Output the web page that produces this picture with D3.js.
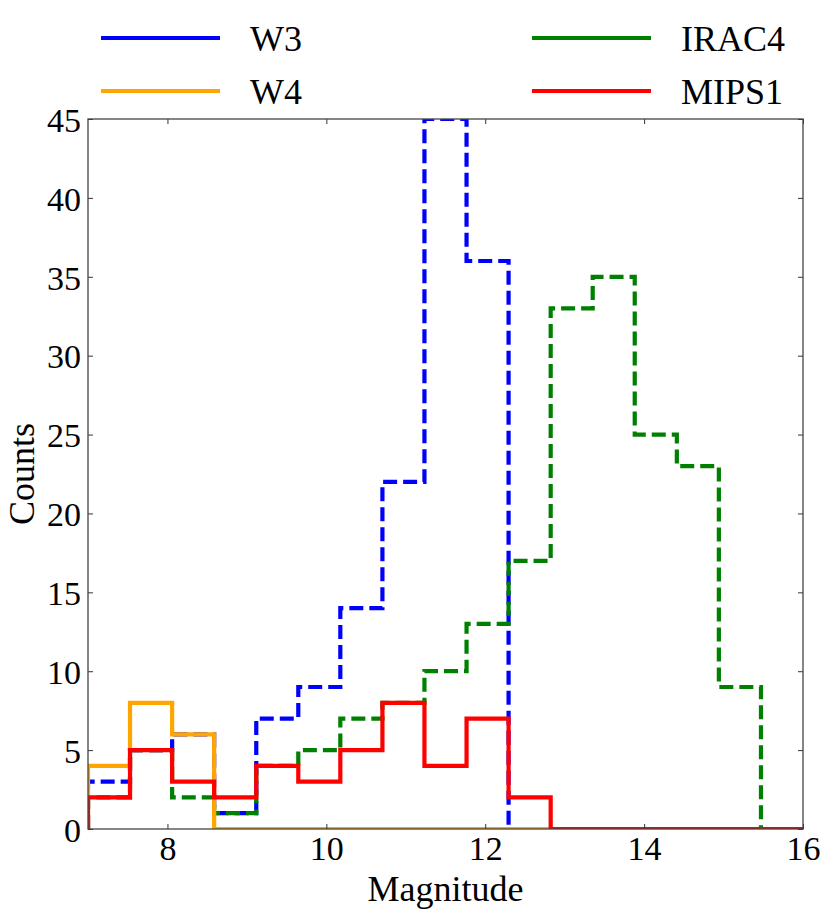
<!DOCTYPE html>
<html>
<head>
<meta charset="utf-8">
<script src="https://cdn.jsdelivr.net/npm/d3@7"></script>
<style>
  body { margin: 0; background: #fff; }
  text { font-family: "Liberation Serif", "DejaVu Serif", serif; fill: #000; }
</style>
</head>
<body>
<div id="hist-div"></div>
<script>
// Script globals
const CHART_WIDTH = 830
const CHART_HEIGHT = 916

// histogram bin edges (17 bins between 7 and 16)
const binEdges = [7, 7.529, 8.059, 8.588, 9.118, 9.647, 10.176, 10.706, 11.235,
  11.765, 12.294, 12.824, 13.353, 13.882, 14.412, 14.941, 15.471, 16]

// counts per bin
const w3Counts = [3, 5, 6, 1, 7, 9, 14, 22, 45, 36, 0, 0, 0, 0, 0, 0, 0]
const w4Counts = [4, 8, 6, 0, 0, 0, 0, 0, 0, 0, 0, 0, 0, 0, 0, 0, 0]
const irac4Counts = [2, 5, 2, 1, 4, 5, 7, 8, 10, 13, 17, 33, 35, 25, 23, 9, 0]
const mips1Counts = [2, 5, 3, 2, 4, 3, 5, 8, 4, 7, 2, 0, 0, 0, 0, 0, 0]

const xTicks = [8, 10, 12, 14, 16]
const yTicks = [0, 5, 10, 15, 20, 25, 30, 35, 40, 45]

// draw order: W3, IRAC4, W4, MIPS1 (legend keeps W3, W4, IRAC4, MIPS1)
const series = [
  {name: "W3", counts: w3Counts, color: "#0000ff", dash: "14,6"},
  {name: "IRAC4", counts: irac4Counts, color: "#008000", dash: "14,6"},
  {name: "W4", counts: w4Counts, color: "#ffa500", dash: null},
  {name: "MIPS1", counts: mips1Counts, color: "#ff0000", dash: null}
]
const legendOrder = ["W3", "W4", "IRAC4", "MIPS1"]

init();

function init () {
  const svg = d3.select("#hist-div").append("svg")
    .attr("width", CHART_WIDTH)
    .attr("height", CHART_HEIGHT)

  const marginLeft = 88
  const marginRight = 27
  const marginTop = 119
  const marginBottom = 87

  const x = d3.scaleLinear()
    .domain([7, 16])
    .range([marginLeft, CHART_WIDTH - marginRight])
  const y = d3.scaleLinear()
    .domain([0, 45])
    .range([CHART_HEIGHT - marginBottom, marginTop])

  svg.append("clipPath").attr("id", "plot-clip")
    .append("rect")
    .attr("x", x(7)).attr("y", y(45))
    .attr("width", x(16) - x(7)).attr("height", y(0) - y(45))

  // step outlines
  const line = d3.line().x(d => x(d[0])).y(d => y(d[1]))
  const plot = svg.append("g").attr("clip-path", "url(#plot-clip)")
  for (let s of series) {
    let pts = [[binEdges[0], 0]]
    s.counts.forEach((c, i) => {
      pts.push([binEdges[i], c])
      pts.push([binEdges[i + 1], c])
    })
    pts.push([binEdges[binEdges.length - 1], 0])
    plot.append("path")
      .attr("d", line(pts))
      .attr("fill", "none")
      .attr("stroke", s.color)
      .attr("stroke-width", 4.2)
      .attr("stroke-dasharray", s.dash)
      .attr("stroke-linejoin", "miter")
  }

  // axes with inward ticks on all sides
  const tickLen = 5
  svg.append("g")
    .attr("transform", `translate(0,${y(0)})`)
    .call(d3.axisBottom(x).tickValues(xTicks).tickSize(-tickLen).tickPadding(7).tickSizeOuter(0))
    .call(g => g.select(".domain").remove())
    .call(g => g.selectAll("text").attr("font-size", 34).attr("dy", "0.71em")
      .style("font-family", "Liberation Serif"))
  svg.append("g")
    .attr("transform", `translate(0,${y(45)})`)
    .call(d3.axisTop(x).tickValues(xTicks).tickSize(-tickLen).tickFormat("").tickSizeOuter(0))
    .call(g => g.select(".domain").remove())
  svg.append("g")
    .attr("transform", `translate(${x(7)},0)`)
    .call(d3.axisLeft(y).tickValues(yTicks).tickSize(-tickLen).tickPadding(7).tickSizeOuter(0))
    .call(g => g.select(".domain").remove())
    .call(g => g.selectAll("text").attr("font-size", 34).attr("dy", "0.36em")
      .style("font-family", "Liberation Serif"))
  svg.append("g")
    .attr("transform", `translate(${x(16)},0)`)
    .call(d3.axisRight(y).tickValues(yTicks).tickSize(-tickLen).tickFormat("").tickSizeOuter(0))
    .call(g => g.select(".domain").remove())
  svg.selectAll(".tick line").attr("stroke", "#333").attr("stroke-width", 1)

  svg.append("rect")
    .attr("x", x(7)).attr("y", y(45))
    .attr("width", x(16) - x(7)).attr("height", y(0) - y(45))
    .attr("fill", "none").attr("stroke", "#444").attr("stroke-width", 1.3)

  // axis labels
  svg.append("text")
    .attr("x", (x(7) + x(16)) / 2).attr("y", 901)
    .attr("text-anchor", "middle").attr("font-size", 36)
    .text("Magnitude")
  svg.append("text")
    .attr("transform", `translate(34,${(y(0) + y(45)) / 2}) rotate(-90)`)
    .attr("text-anchor", "middle").attr("font-size", 36)
    .text("Counts")

  // legend, two columns
  const legendPos = [[101, 38], [101, 91], [532, 38], [532, 91]]
  legendOrder.forEach((name, i) => {
    const s = series.find(d => d.name === name)
    const [lx, ly] = legendPos[i]
    svg.append("line")
      .attr("x1", lx).attr("x2", lx + 119)
      .attr("y1", ly).attr("y2", ly)
      .attr("stroke", s.color).attr("stroke-width", 4)
    svg.append("text")
      .attr("x", lx + 149).attr("y", ly + 13)
      .attr("font-size", 36)
      .text(name)
  })
}
</script>
</body>
</html>
